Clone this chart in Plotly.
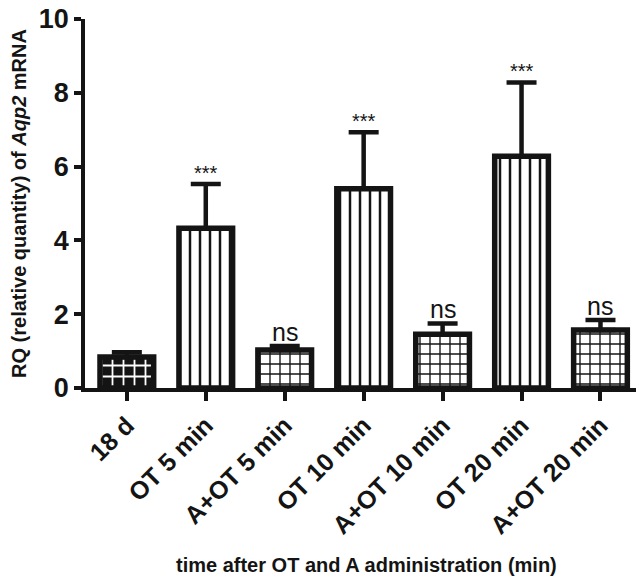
import plotly.graph_objects as go

categories = ["18 d", "OT 5 min", "A+OT 5 min", "OT 10 min", "A+OT 10 min", "OT 20 min", "A+OT 20 min"]
values = [0.84, 4.33, 1.03, 5.40, 1.46, 6.28, 1.57]
errors = [0.13, 1.20, 0.11, 1.53, 0.29, 2.00, 0.27]
sig_labels = ["", "***", "ns", "***", "ns", "***", "ns"]
pattern_kind = ["brick", "lines", "grid", "lines", "grid", "lines", "grid"]

INK = "#141414"
FONT = "Liberation Sans"
x_idx = list(range(len(categories)))

fig = go.Figure()
for i, (v, e, k) in enumerate(zip(values, errors, pattern_kind)):
    if k == "brick":
        shp, b, f, sz, sol = "+", INK, "white", 11, 0.3
    elif k == "lines":
        shp, b, f, sz, sol = "|", "white", INK, 10, 0.25
    else:
        shp, b, f, sz, sol = "+", "white", INK, 10, 0.25
    fig.add_trace(go.Bar(
        x=[i], y=[v], width=0.68,
        marker=dict(
            color=b,
            line=dict(color=INK, width=5.5),
            pattern=dict(shape=shp, fgcolor=f, bgcolor=b, size=sz, solidity=sol, fillmode="replace"),
        ),
        error_y=dict(type="data", symmetric=False, array=[e], arrayminus=[0],
                     color=INK, thickness=4.5, width=15),
        showlegend=False,
    ))

for i, (v, e, s) in enumerate(zip(values, errors, sig_labels)):
    if not s:
        continue
    if s == "***":
        fig.add_annotation(x=i, y=v + e, text=s, showarrow=False, yanchor="bottom", yshift=-2,
                           font=dict(family=FONT, size=20, color=INK))
    else:
        fig.add_annotation(x=i, y=v + e, text=s, showarrow=False, yanchor="bottom", yshift=-2,
                           font=dict(family=FONT, size=25, color=INK))

fig.add_annotation(xref="paper", yref="paper", x=0.51, y=-0.48, text="time after OT and A administration (min)",
                   showarrow=False, xanchor="center", yanchor="middle",
                   font=dict(family=FONT, size=20, weight="bold", color=INK))

fig.update_layout(
    width=639, height=584,
    margin=dict(l=85, r=3, t=19, b=196),
    paper_bgcolor="white", plot_bgcolor="white",
    font=dict(family=FONT, color=INK),
)
fig.update_xaxes(
    range=[-0.53, 6.45], tickmode="array", tickvals=x_idx, ticktext=categories,
    tickangle=-45, showline=True, linecolor=INK, linewidth=3.5,
    ticks="outside", ticklen=9, tickwidth=3.5, tickcolor=INK,
    tickfont=dict(family=FONT, size=25, weight="bold", color=INK),
    showgrid=False, zeroline=False, automargin=False,
)
fig.update_yaxes(
    range=[0, 10], tickvals=[0, 2, 4, 6, 8, 10],
    showline=True, linecolor=INK, linewidth=3.5,
    ticks="outside", ticklen=7, tickwidth=3.5, tickcolor=INK,
    tickfont=dict(family=FONT, size=27, weight="bold", color=INK),
    showgrid=False, zeroline=False, automargin=False,
    title=dict(text="RQ (relative quantity) of <i>Aqp2</i> mRNA", standoff=8,
               font=dict(family=FONT, size=20, weight="bold", color=INK)),
)

fig.write_html("out.html", config={"displayModeBar": False},
               post_script="document.body.style.margin='0';document.body.style.overflow='hidden';")
